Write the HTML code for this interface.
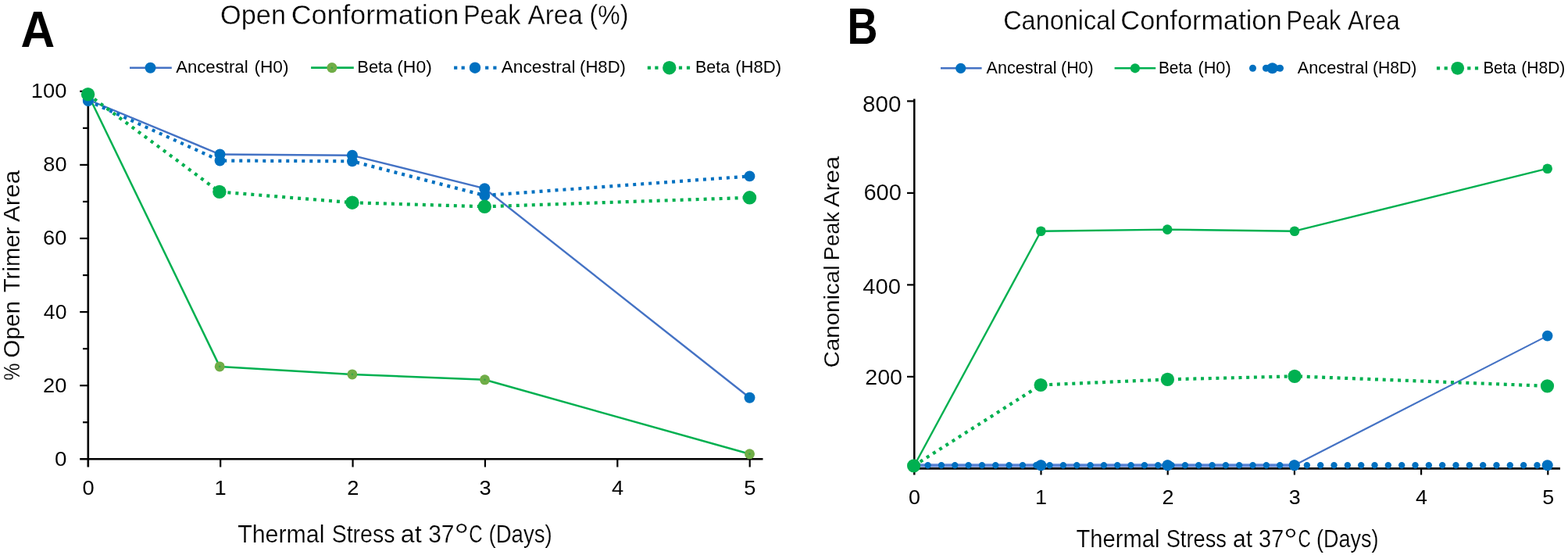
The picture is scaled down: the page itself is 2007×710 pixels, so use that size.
<!DOCTYPE html>
<html><head><meta charset="utf-8"><title>Open and Canonical Conformation Peak Area</title>
<style>html,body{margin:0;padding:0;background:#fff;}svg{display:block;}text.t{stroke:#fff;}</style></head>
<body><svg width="2007" height="710" viewBox="0 0 2007 710">
<rect width="2007" height="710" fill="#fff"/>
<text x="26.49" y="59.50" font-family="'Liberation Sans', Arial, sans-serif" font-size="64.54" font-weight="bold" fill="#000" textLength="43.70" lengthAdjust="spacingAndGlyphs">A</text>
<text class="t" stroke-width="0.33" x="282.07" y="30.70" font-family="'Liberation Sans', Arial, sans-serif" font-size="34.88" font-weight="normal" fill="#000" textLength="83.95" lengthAdjust="spacingAndGlyphs">Open</text>
<text class="t" stroke-width="0.33" x="372.78" y="30.70" font-family="'Liberation Sans', Arial, sans-serif" font-size="34.88" font-weight="normal" fill="#000" textLength="214.64" lengthAdjust="spacingAndGlyphs">Conformation</text>
<text class="t" stroke-width="0.33" x="593.16" y="30.70" font-family="'Liberation Sans', Arial, sans-serif" font-size="34.88" font-weight="normal" fill="#000" textLength="73.29" lengthAdjust="spacingAndGlyphs">Peak</text>
<text class="t" stroke-width="0.33" x="675.54" y="30.70" font-family="'Liberation Sans', Arial, sans-serif" font-size="34.88" font-weight="normal" fill="#000" textLength="70.26" lengthAdjust="spacingAndGlyphs">Area</text>
<text class="t" stroke-width="0.33" x="754.62" y="30.70" font-family="'Liberation Sans', Arial, sans-serif" font-size="34.88" font-weight="normal" fill="#000" textLength="49.66" lengthAdjust="spacingAndGlyphs">(%)</text>
<line x1="166.00" y1="86.70" x2="219.80" y2="86.70" stroke="#4472C4" stroke-width="2.6" stroke-linecap="butt"/>
<circle cx="192.50" cy="86.70" r="7.00" fill="#0070C0"/>
<text x="225.16" y="93.30" font-family="'Liberation Sans', Arial, sans-serif" font-size="22.67" font-weight="normal" fill="#000" textLength="92.43" lengthAdjust="spacingAndGlyphs">Ancestral</text>
<text x="325.39" y="93.30" font-family="'Liberation Sans', Arial, sans-serif" font-size="22.67" font-weight="normal" fill="#000" textLength="44.11" lengthAdjust="spacingAndGlyphs">(H0)</text>
<line x1="398.10" y1="86.70" x2="452.80" y2="86.70" stroke="#00B050" stroke-width="2.8" stroke-linecap="butt"/>
<circle cx="424.90" cy="86.70" r="6.60" fill="#70AD47"/>
<circle cx="424.90" cy="86.70" r="1.30" fill="#3aa845"/>
<text x="457.30" y="93.30" font-family="'Liberation Sans', Arial, sans-serif" font-size="22.67" font-weight="normal" fill="#000" textLength="45.10" lengthAdjust="spacingAndGlyphs">Beta</text>
<text x="508.18" y="93.30" font-family="'Liberation Sans', Arial, sans-serif" font-size="22.67" font-weight="normal" fill="#000" textLength="44.65" lengthAdjust="spacingAndGlyphs">(H0)</text>
<rect x="581.10" y="84.60" width="4.2" height="4.2" fill="#0070C0"/>
<rect x="590.60" y="84.60" width="4.2" height="4.2" fill="#0070C0"/>
<rect x="621.10" y="84.60" width="4.2" height="4.2" fill="#0070C0"/>
<rect x="631.30" y="84.60" width="4.2" height="4.2" fill="#0070C0"/>
<circle cx="608.00" cy="86.70" r="7.20" fill="#0070C0"/>
<text x="641.66" y="93.30" font-family="'Liberation Sans', Arial, sans-serif" font-size="22.67" font-weight="normal" fill="#000" textLength="94.87" lengthAdjust="spacingAndGlyphs">Ancestral</text>
<text x="742.03" y="93.30" font-family="'Liberation Sans', Arial, sans-serif" font-size="22.67" font-weight="normal" fill="#000" textLength="58.94" lengthAdjust="spacingAndGlyphs">(H8D)</text>
<rect x="828.80" y="84.60" width="4.2" height="4.2" fill="#00B050"/>
<rect x="838.30" y="84.60" width="4.2" height="4.2" fill="#00B050"/>
<rect x="868.90" y="84.60" width="4.2" height="4.2" fill="#00B050"/>
<rect x="878.90" y="84.60" width="4.2" height="4.2" fill="#00B050"/>
<circle cx="856.80" cy="86.70" r="8.70" fill="#00B050"/>
<text x="889.94" y="93.40" font-family="'Liberation Sans', Arial, sans-serif" font-size="22.67" font-weight="normal" fill="#000" textLength="44.16" lengthAdjust="spacingAndGlyphs">Beta</text>
<text x="941.13" y="93.40" font-family="'Liberation Sans', Arial, sans-serif" font-size="22.67" font-weight="normal" fill="#000" textLength="59.05" lengthAdjust="spacingAndGlyphs">(H8D)</text>
<line x1="112.8" y1="115.5" x2="112.8" y2="597.5" stroke="#000" stroke-width="2.6"/>
<line x1="102.2" y1="587.3" x2="976.5" y2="587.3" stroke="#000" stroke-width="2.6"/>
<line x1="106" y1="540.25" x2="112.8" y2="540.25" stroke="#000" stroke-width="2.2"/>
<line x1="102.2" y1="493.20" x2="112.8" y2="493.20" stroke="#000" stroke-width="2.2"/>
<line x1="106" y1="446.15" x2="112.8" y2="446.15" stroke="#000" stroke-width="2.2"/>
<line x1="102.2" y1="399.10" x2="112.8" y2="399.10" stroke="#000" stroke-width="2.2"/>
<line x1="106" y1="352.05" x2="112.8" y2="352.05" stroke="#000" stroke-width="2.2"/>
<line x1="102.2" y1="305.00" x2="112.8" y2="305.00" stroke="#000" stroke-width="2.2"/>
<line x1="106" y1="257.95" x2="112.8" y2="257.95" stroke="#000" stroke-width="2.2"/>
<line x1="102.2" y1="210.90" x2="112.8" y2="210.90" stroke="#000" stroke-width="2.2"/>
<line x1="106" y1="163.85" x2="112.8" y2="163.85" stroke="#000" stroke-width="2.2"/>
<line x1="102.2" y1="116.80" x2="112.8" y2="116.80" stroke="#000" stroke-width="2.2"/>
<line x1="282.18" y1="587.3" x2="282.18" y2="597.5" stroke="#000" stroke-width="2.2"/>
<line x1="451.56" y1="587.3" x2="451.56" y2="597.5" stroke="#000" stroke-width="2.2"/>
<line x1="620.94" y1="587.3" x2="620.94" y2="597.5" stroke="#000" stroke-width="2.2"/>
<line x1="790.32" y1="587.3" x2="790.32" y2="597.5" stroke="#000" stroke-width="2.2"/>
<line x1="959.70" y1="587.3" x2="959.70" y2="597.5" stroke="#000" stroke-width="2.2"/>
<text class="t" stroke-width="0.06" x="70.01" y="595.75" font-family="'Liberation Sans', Arial, sans-serif" font-size="25.99" font-weight="normal" fill="#000" textLength="15.47" lengthAdjust="spacingAndGlyphs">0</text>
<text class="t" stroke-width="0.06" x="55.13" y="501.65" font-family="'Liberation Sans', Arial, sans-serif" font-size="25.99" font-weight="normal" fill="#000" textLength="30.34" lengthAdjust="spacingAndGlyphs">20</text>
<text class="t" stroke-width="0.06" x="55.89" y="407.55" font-family="'Liberation Sans', Arial, sans-serif" font-size="25.99" font-weight="normal" fill="#000" textLength="29.55" lengthAdjust="spacingAndGlyphs">40</text>
<text class="t" stroke-width="0.06" x="55.11" y="313.45" font-family="'Liberation Sans', Arial, sans-serif" font-size="25.99" font-weight="normal" fill="#000" textLength="30.35" lengthAdjust="spacingAndGlyphs">60</text>
<text class="t" stroke-width="0.06" x="55.32" y="219.35" font-family="'Liberation Sans', Arial, sans-serif" font-size="25.99" font-weight="normal" fill="#000" textLength="30.14" lengthAdjust="spacingAndGlyphs">80</text>
<text class="t" stroke-width="0.06" x="39.82" y="125.25" font-family="'Liberation Sans', Arial, sans-serif" font-size="25.99" font-weight="normal" fill="#000" textLength="45.65" lengthAdjust="spacingAndGlyphs">100</text>
<text x="105.41" y="633.20" font-family="'Liberation Sans', Arial, sans-serif" font-size="26.00" fill="#000" textLength="15.18" lengthAdjust="spacingAndGlyphs">0</text>
<text x="274.42" y="633.20" font-family="'Liberation Sans', Arial, sans-serif" font-size="26.00" fill="#000" textLength="15.18" lengthAdjust="spacingAndGlyphs">1</text>
<text x="444.17" y="633.20" font-family="'Liberation Sans', Arial, sans-serif" font-size="26.00" fill="#000" textLength="15.18" lengthAdjust="spacingAndGlyphs">2</text>
<text x="613.63" y="633.20" font-family="'Liberation Sans', Arial, sans-serif" font-size="26.00" fill="#000" textLength="15.18" lengthAdjust="spacingAndGlyphs">3</text>
<text x="783.02" y="633.20" font-family="'Liberation Sans', Arial, sans-serif" font-size="26.00" fill="#000" textLength="15.18" lengthAdjust="spacingAndGlyphs">4</text>
<text x="952.34" y="633.20" font-family="'Liberation Sans', Arial, sans-serif" font-size="26.00" fill="#000" textLength="15.18" lengthAdjust="spacingAndGlyphs">5</text>
<text class="t" stroke-width="0.17" transform="translate(25.30,486.79) rotate(-90)" x="0" y="0" font-family="'Liberation Sans', Arial, sans-serif" font-size="29.51" fill="#000" textLength="22.18" lengthAdjust="spacingAndGlyphs">%</text>
<text class="t" stroke-width="0.17" transform="translate(25.30,457.71) rotate(-90)" x="0" y="0" font-family="'Liberation Sans', Arial, sans-serif" font-size="29.51" fill="#000" textLength="72.74" lengthAdjust="spacingAndGlyphs">Open</text>
<text class="t" stroke-width="0.17" transform="translate(25.30,374.25) rotate(-90)" x="0" y="0" font-family="'Liberation Sans', Arial, sans-serif" font-size="29.51" fill="#000" textLength="83.83" lengthAdjust="spacingAndGlyphs">Trimer</text>
<text class="t" stroke-width="0.17" transform="translate(25.30,284.06) rotate(-90)" x="0" y="0" font-family="'Liberation Sans', Arial, sans-serif" font-size="29.51" fill="#000" textLength="66.16" lengthAdjust="spacingAndGlyphs">Area</text>
<text class="t" stroke-width="0.23" x="304.22" y="694.00" font-family="'Liberation Sans', Arial, sans-serif" font-size="31.54" font-weight="normal" fill="#000" textLength="111.21" lengthAdjust="spacingAndGlyphs">Thermal</text>
<text class="t" stroke-width="0.23" x="424.71" y="694.00" font-family="'Liberation Sans', Arial, sans-serif" font-size="31.54" font-weight="normal" fill="#000" textLength="80.72" lengthAdjust="spacingAndGlyphs">Stress</text>
<text class="t" stroke-width="0.23" x="512.83" y="694.00" font-family="'Liberation Sans', Arial, sans-serif" font-size="31.54" font-weight="normal" fill="#000" textLength="26.91" lengthAdjust="spacingAndGlyphs">at</text>
<text class="t" stroke-width="0.23" x="548.16" y="694.00" font-family="'Liberation Sans', Arial, sans-serif" font-size="31.54" font-weight="normal" fill="#000" textLength="33.35" lengthAdjust="spacingAndGlyphs">37</text>
<text class="t" stroke-width="0.40" x="580.99" y="701.21" font-family="'Liberation Sans', Arial, sans-serif" font-size="44.55" font-weight="normal" fill="#000" textLength="19.55" lengthAdjust="spacingAndGlyphs">°</text>
<text class="t" stroke-width="0.23" x="600.17" y="694.00" font-family="'Liberation Sans', Arial, sans-serif" font-size="31.54" font-weight="normal" fill="#000" textLength="17.45" lengthAdjust="spacingAndGlyphs">C</text>
<text class="t" stroke-width="0.23" x="625.49" y="694.00" font-family="'Liberation Sans', Arial, sans-serif" font-size="31.54" font-weight="normal" fill="#000" textLength="81.22" lengthAdjust="spacingAndGlyphs">(Days)</text>
<polyline points="112.80,127.50 281.50,197.50 450.90,198.80 620.30,241.20 959.50,508.70" fill="none" stroke="#4472C4" stroke-width="2.4" stroke-linecap="butt" stroke-linejoin="round"/>
<circle cx="112.80" cy="127.50" r="7.00" fill="#0070C0"/>
<circle cx="281.50" cy="197.50" r="7.00" fill="#0070C0"/>
<circle cx="450.90" cy="198.80" r="7.00" fill="#0070C0"/>
<circle cx="620.30" cy="241.20" r="7.00" fill="#0070C0"/>
<circle cx="959.50" cy="508.70" r="7.00" fill="#0070C0"/>
<polyline points="112.80,121.00 281.20,468.90 450.90,478.90 620.50,485.80 959.50,580.80" fill="none" stroke="#00B050" stroke-width="2.5" stroke-linecap="butt" stroke-linejoin="round"/>
<circle cx="112.80" cy="121.00" r="6.50" fill="#70AD47"/>
<circle cx="112.80" cy="121.00" r="1.30" fill="#3aa845"/>
<circle cx="281.20" cy="468.90" r="6.50" fill="#70AD47"/>
<circle cx="281.20" cy="468.90" r="1.30" fill="#3aa845"/>
<circle cx="450.90" cy="478.90" r="6.50" fill="#70AD47"/>
<circle cx="450.90" cy="478.90" r="1.30" fill="#3aa845"/>
<circle cx="620.50" cy="485.80" r="6.50" fill="#70AD47"/>
<circle cx="620.50" cy="485.80" r="1.30" fill="#3aa845"/>
<circle cx="959.50" cy="580.80" r="6.50" fill="#70AD47"/>
<circle cx="959.50" cy="580.80" r="1.30" fill="#3aa845"/>
<polyline points="112.80,129.00 281.50,205.50 450.90,206.30 620.30,250.00 959.50,225.40" fill="none" stroke="#0070C0" stroke-width="4.2" stroke-dasharray="4 6" stroke-linecap="butt" stroke-linejoin="round"/>
<circle cx="112.80" cy="129.00" r="6.90" fill="#0070C0"/>
<circle cx="281.50" cy="205.50" r="6.90" fill="#0070C0"/>
<circle cx="450.90" cy="206.30" r="6.90" fill="#0070C0"/>
<circle cx="620.30" cy="250.00" r="6.90" fill="#0070C0"/>
<circle cx="959.50" cy="225.40" r="6.90" fill="#0070C0"/>
<polyline points="112.60,120.70 280.90,245.40 450.90,259.20 620.30,264.30 959.50,252.80" fill="none" stroke="#00B050" stroke-width="4.2" stroke-dasharray="4 6" stroke-linecap="butt" stroke-linejoin="round"/>
<circle cx="112.60" cy="120.70" r="8.70" fill="#00B050"/>
<circle cx="280.90" cy="245.40" r="8.70" fill="#00B050"/>
<circle cx="450.90" cy="259.20" r="8.70" fill="#00B050"/>
<circle cx="620.30" cy="264.30" r="8.70" fill="#00B050"/>
<circle cx="959.50" cy="252.80" r="8.70" fill="#00B050"/>
<text x="1084.49" y="55.70" font-family="'Liberation Sans', Arial, sans-serif" font-size="65.70" font-weight="bold" fill="#000" textLength="38.96" lengthAdjust="spacingAndGlyphs">B</text>
<text class="t" stroke-width="0.32" x="1284.15" y="38.20" font-family="'Liberation Sans', Arial, sans-serif" font-size="34.59" font-weight="normal" fill="#000" textLength="144.42" lengthAdjust="spacingAndGlyphs">Canonical</text>
<text class="t" stroke-width="0.32" x="1434.36" y="38.20" font-family="'Liberation Sans', Arial, sans-serif" font-size="34.59" font-weight="normal" fill="#000" textLength="206.17" lengthAdjust="spacingAndGlyphs">Conformation</text>
<text class="t" stroke-width="0.32" x="1646.59" y="38.20" font-family="'Liberation Sans', Arial, sans-serif" font-size="34.59" font-weight="normal" fill="#000" textLength="69.66" lengthAdjust="spacingAndGlyphs">Peak</text>
<text class="t" stroke-width="0.32" x="1725.04" y="38.20" font-family="'Liberation Sans', Arial, sans-serif" font-size="34.59" font-weight="normal" fill="#000" textLength="66.66" lengthAdjust="spacingAndGlyphs">Area</text>
<line x1="1204.00" y1="87.30" x2="1256.60" y2="87.30" stroke="#4472C4" stroke-width="2.4" stroke-linecap="butt"/>
<circle cx="1229.70" cy="87.30" r="6.60" fill="#0070C0"/>
<text x="1262.56" y="93.90" font-family="'Liberation Sans', Arial, sans-serif" font-size="22.38" font-weight="normal" fill="#000" textLength="89.88" lengthAdjust="spacingAndGlyphs">Ancestral</text>
<text x="1358.07" y="93.90" font-family="'Liberation Sans', Arial, sans-serif" font-size="22.38" font-weight="normal" fill="#000" textLength="41.55" lengthAdjust="spacingAndGlyphs">(H0)</text>
<line x1="1426.60" y1="87.30" x2="1479.20" y2="87.30" stroke="#00B050" stroke-width="2.6" stroke-linecap="butt"/>
<circle cx="1452.90" cy="87.30" r="6.10" fill="#00B050"/>
<text x="1482.89" y="93.90" font-family="'Liberation Sans', Arial, sans-serif" font-size="22.38" font-weight="normal" fill="#000" textLength="42.91" lengthAdjust="spacingAndGlyphs">Beta</text>
<text x="1533.45" y="93.90" font-family="'Liberation Sans', Arial, sans-serif" font-size="22.38" font-weight="normal" fill="#000" textLength="42.19" lengthAdjust="spacingAndGlyphs">(H0)</text>
<circle cx="1603.50" cy="87.30" r="4.50" fill="#0070C0"/>
<rect x="1616.3" y="83.50" width="26.3" height="7.6" rx="3.8" fill="#0070C0"/>
<circle cx="1620.50" cy="87.30" r="4.50" fill="#0070C0"/>
<circle cx="1638.40" cy="87.30" r="4.50" fill="#0070C0"/>
<circle cx="1628.60" cy="87.30" r="7.00" fill="#0070C0"/>
<text x="1660.76" y="94.20" font-family="'Liberation Sans', Arial, sans-serif" font-size="22.38" font-weight="normal" fill="#000" textLength="90.49" lengthAdjust="spacingAndGlyphs">Ancestral</text>
<text x="1756.89" y="94.20" font-family="'Liberation Sans', Arial, sans-serif" font-size="22.38" font-weight="normal" fill="#000" textLength="56.42" lengthAdjust="spacingAndGlyphs">(H8D)</text>
<rect x="1838.90" y="85.20" width="4.2" height="4.2" fill="#00B050"/>
<rect x="1848.60" y="85.20" width="4.2" height="4.2" fill="#00B050"/>
<rect x="1878.20" y="85.20" width="4.2" height="4.2" fill="#00B050"/>
<rect x="1887.90" y="85.20" width="4.2" height="4.2" fill="#00B050"/>
<circle cx="1865.70" cy="87.30" r="8.40" fill="#00B050"/>
<text x="1898.41" y="93.80" font-family="'Liberation Sans', Arial, sans-serif" font-size="22.38" font-weight="normal" fill="#000" textLength="42.29" lengthAdjust="spacingAndGlyphs">Beta</text>
<text x="1947.30" y="93.80" font-family="'Liberation Sans', Arial, sans-serif" font-size="22.38" font-weight="normal" fill="#000" textLength="56.00" lengthAdjust="spacingAndGlyphs">(H8D)</text>
<line x1="1170.3" y1="126.4" x2="1170.3" y2="607.5" stroke="#000" stroke-width="2.5"/>
<line x1="1170.3" y1="599.4" x2="1997" y2="599.4" stroke="#000" stroke-width="2.6"/>
<line x1="1161" y1="481.90" x2="1170.3" y2="481.90" stroke="#000" stroke-width="2.2"/>
<line x1="1161" y1="364.40" x2="1170.3" y2="364.40" stroke="#000" stroke-width="2.2"/>
<line x1="1161" y1="246.90" x2="1170.3" y2="246.90" stroke="#000" stroke-width="2.2"/>
<line x1="1161" y1="129.40" x2="1170.3" y2="129.40" stroke="#000" stroke-width="2.2"/>
<line x1="1332.50" y1="599.4" x2="1332.50" y2="607.5" stroke="#000" stroke-width="2.2"/>
<line x1="1494.70" y1="599.4" x2="1494.70" y2="607.5" stroke="#000" stroke-width="2.2"/>
<line x1="1656.90" y1="599.4" x2="1656.90" y2="607.5" stroke="#000" stroke-width="2.2"/>
<line x1="1819.10" y1="599.4" x2="1819.10" y2="607.5" stroke="#000" stroke-width="2.2"/>
<line x1="1981.30" y1="599.4" x2="1981.30" y2="607.5" stroke="#000" stroke-width="2.2"/>
<text class="t" stroke-width="0.17" x="1104.11" y="143.11" font-family="'Liberation Sans', Arial, sans-serif" font-size="29.66" font-weight="normal" fill="#000" textLength="49.34" lengthAdjust="spacingAndGlyphs">800</text>
<text class="t" stroke-width="0.14" x="1105.42" y="255.82" font-family="'Liberation Sans', Arial, sans-serif" font-size="28.81" font-weight="normal" fill="#000" textLength="48.51" lengthAdjust="spacingAndGlyphs">600</text>
<text class="t" stroke-width="0.14" x="1104.23" y="375.52" font-family="'Liberation Sans', Arial, sans-serif" font-size="28.53" font-weight="normal" fill="#000" textLength="48.92" lengthAdjust="spacingAndGlyphs">400</text>
<text class="t" stroke-width="0.14" x="1107.15" y="491.82" font-family="'Liberation Sans', Arial, sans-serif" font-size="28.53" font-weight="normal" fill="#000" textLength="47.97" lengthAdjust="spacingAndGlyphs">200</text>
<text x="1163.13" y="644.80" font-family="'Liberation Sans', Arial, sans-serif" font-size="25.60" fill="#000" textLength="14.95" lengthAdjust="spacingAndGlyphs">0</text>
<text x="1324.96" y="644.80" font-family="'Liberation Sans', Arial, sans-serif" font-size="25.60" fill="#000" textLength="14.95" lengthAdjust="spacingAndGlyphs">1</text>
<text x="1487.53" y="644.80" font-family="'Liberation Sans', Arial, sans-serif" font-size="25.60" fill="#000" textLength="14.95" lengthAdjust="spacingAndGlyphs">2</text>
<text x="1649.80" y="644.80" font-family="'Liberation Sans', Arial, sans-serif" font-size="25.60" fill="#000" textLength="14.95" lengthAdjust="spacingAndGlyphs">3</text>
<text x="1812.01" y="644.80" font-family="'Liberation Sans', Arial, sans-serif" font-size="25.60" fill="#000" textLength="14.95" lengthAdjust="spacingAndGlyphs">4</text>
<text x="1974.15" y="644.80" font-family="'Liberation Sans', Arial, sans-serif" font-size="25.60" fill="#000" textLength="14.95" lengthAdjust="spacingAndGlyphs">5</text>
<text class="t" stroke-width="0.13" transform="translate(1074.40,470.40) rotate(-90)" x="0" y="0" font-family="'Liberation Sans', Arial, sans-serif" font-size="28.49" fill="#000" textLength="131.17" lengthAdjust="spacingAndGlyphs">Canonical</text>
<text class="t" stroke-width="0.13" transform="translate(1074.40,333.35) rotate(-90)" x="0" y="0" font-family="'Liberation Sans', Arial, sans-serif" font-size="28.49" fill="#000" textLength="62.41" lengthAdjust="spacingAndGlyphs">Peak</text>
<text class="t" stroke-width="0.13" transform="translate(1074.40,265.06) rotate(-90)" x="0" y="0" font-family="'Liberation Sans', Arial, sans-serif" font-size="28.49" fill="#000" textLength="65.16" lengthAdjust="spacingAndGlyphs">Area</text>
<text class="t" stroke-width="0.21" x="1377.55" y="700.10" font-family="'Liberation Sans', Arial, sans-serif" font-size="31.11" font-weight="normal" fill="#000" textLength="106.80" lengthAdjust="spacingAndGlyphs">Thermal</text>
<text class="t" stroke-width="0.21" x="1492.66" y="700.10" font-family="'Liberation Sans', Arial, sans-serif" font-size="31.11" font-weight="normal" fill="#000" textLength="77.32" lengthAdjust="spacingAndGlyphs">Stress</text>
<text class="t" stroke-width="0.21" x="1578.02" y="700.10" font-family="'Liberation Sans', Arial, sans-serif" font-size="31.11" font-weight="normal" fill="#000" textLength="25.10" lengthAdjust="spacingAndGlyphs">at</text>
<text class="t" stroke-width="0.21" x="1611.10" y="700.10" font-family="'Liberation Sans', Arial, sans-serif" font-size="31.11" font-weight="normal" fill="#000" textLength="32.15" lengthAdjust="spacingAndGlyphs">37</text>
<text class="t" stroke-width="0.40" x="1642.92" y="706.11" font-family="'Liberation Sans', Arial, sans-serif" font-size="43.12" font-weight="normal" fill="#000" textLength="17.98" lengthAdjust="spacingAndGlyphs">°</text>
<text class="t" stroke-width="0.21" x="1661.45" y="700.10" font-family="'Liberation Sans', Arial, sans-serif" font-size="31.11" font-weight="normal" fill="#000" textLength="16.31" lengthAdjust="spacingAndGlyphs">C</text>
<text class="t" stroke-width="0.21" x="1685.02" y="700.10" font-family="'Liberation Sans', Arial, sans-serif" font-size="31.11" font-weight="normal" fill="#000" textLength="79.55" lengthAdjust="spacingAndGlyphs">(Days)</text>
<polyline points="1170.30,595.30 1332.30,595.30 1494.50,595.30 1656.70,595.30" fill="none" stroke="#5b84d6" stroke-width="4.2" stroke-linecap="butt" stroke-linejoin="round"/>
<polyline points="1656.70,595.30 1980.70,429.60" fill="none" stroke="#4472C4" stroke-width="2.1" stroke-linecap="butt" stroke-linejoin="round"/>
<circle cx="1170.30" cy="595.30" r="6.80" fill="#0070C0"/>
<circle cx="1332.30" cy="595.30" r="6.80" fill="#0070C0"/>
<circle cx="1494.50" cy="595.30" r="6.80" fill="#0070C0"/>
<circle cx="1656.70" cy="595.30" r="6.80" fill="#0070C0"/>
<circle cx="1980.70" cy="429.60" r="6.80" fill="#0070C0"/>
<polyline points="1170.30,595.50 1332.40,295.70 1494.20,293.60 1657.00,295.70 1980.70,215.70" fill="none" stroke="#00B050" stroke-width="2.4" stroke-linecap="butt" stroke-linejoin="round"/>
<circle cx="1170.30" cy="595.50" r="6.30" fill="#00B050"/>
<circle cx="1332.40" cy="295.70" r="6.30" fill="#00B050"/>
<circle cx="1494.20" cy="293.60" r="6.30" fill="#00B050"/>
<circle cx="1657.00" cy="295.70" r="6.30" fill="#00B050"/>
<circle cx="1980.70" cy="215.70" r="6.30" fill="#00B050"/>
<line x1="1170.30" y1="595.30" x2="1980.70" y2="595.30" stroke="#0070C0" stroke-width="8.4" stroke-dasharray="0 17.33" stroke-linecap="round"/>
<circle cx="1170.30" cy="595.30" r="7.00" fill="#0070C0"/>
<circle cx="1332.30" cy="595.30" r="7.00" fill="#0070C0"/>
<circle cx="1494.50" cy="595.30" r="7.00" fill="#0070C0"/>
<circle cx="1656.70" cy="595.30" r="7.00" fill="#0070C0"/>
<circle cx="1980.70" cy="595.30" r="7.00" fill="#0070C0"/>
<polyline points="1169.60,595.90 1332.10,492.50 1494.40,485.40 1657.10,481.30 1980.50,493.80" fill="none" stroke="#00B050" stroke-width="4.2" stroke-dasharray="4 5.7" stroke-linecap="butt" stroke-linejoin="round"/>
<circle cx="1169.60" cy="595.90" r="8.60" fill="#00B050"/>
<circle cx="1332.10" cy="492.50" r="8.60" fill="#00B050"/>
<circle cx="1494.40" cy="485.40" r="8.60" fill="#00B050"/>
<circle cx="1657.10" cy="481.30" r="8.60" fill="#00B050"/>
<circle cx="1980.50" cy="493.80" r="8.60" fill="#00B050"/>
</svg></body></html>
